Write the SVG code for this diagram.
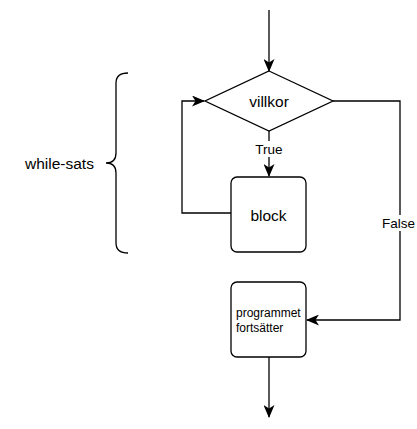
<svg xmlns="http://www.w3.org/2000/svg" width="417" height="429" viewBox="0 0 417 429">
<style>
.s{fill:#fff;stroke:#000;stroke-width:1.3}
.l{fill:none;stroke:#000;stroke-width:1.3}
text{font-family:"Liberation Sans",Arial,sans-serif;fill:#000}
</style>
<defs>
<marker id="a" viewBox="0 0 13 11" refX="12" refY="5.5" markerWidth="13" markerHeight="11" markerUnits="userSpaceOnUse" orient="auto">
<path d="M0,0 L13,5.5 L0,11 L3.5,5.5 Z" fill="#000"/>
</marker>
</defs>
<g id="connectors">
<path class="l" d="M269,10 V71" marker-end="url(#a)"/>
<path class="l" d="M269,131 V176" marker-end="url(#a)"/>
<path class="l" d="M231,213 H182 V101 H204" marker-end="url(#a)"/>
<path class="l" d="M333,101 H400 V320 H307" marker-end="url(#a)"/>
<path class="l" d="M269,357 V417" marker-end="url(#a)"/>
<rect x="253" y="141" width="32" height="16" fill="#fff"/>
<text x="269" y="153.5" font-size="13.5" text-anchor="middle">True</text>
<rect x="381" y="215" width="36" height="16" fill="#fff"/>
<text x="398.5" y="228" font-size="13.5" text-anchor="middle">False</text>
</g>
<g id="villkor">
<path class="s" d="M269,71 L333,101 L269,131 L205,101 Z"/>
<text x="269" y="106.5" font-size="15.5" text-anchor="middle">villkor</text>
</g>
<g id="block">
<rect class="s" x="231" y="177" width="75" height="75" rx="6"/>
<text x="268.5" y="220.5" font-size="15.5" text-anchor="middle">block</text>
</g>
<g id="programmet">
<rect class="s" x="231" y="282" width="75" height="75" rx="6"/>
<text x="236" y="317" font-size="12">programmet</text>
<text x="236" y="332" font-size="12">fortsätter</text>
</g>
<g id="while-sats">
<path class="l" d="M128,73 Q116,73 116,83 V153 Q116,163 106,163 Q116,163 116,173 V243 Q116,253 128,253"/>
<text x="25" y="168.5" font-size="15.5">while-sats</text>
</g>
</svg>
